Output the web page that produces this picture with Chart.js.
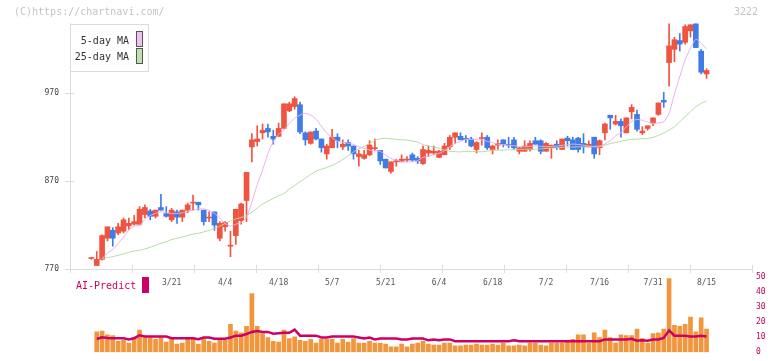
<!DOCTYPE html>
<html><head><meta charset="utf-8">
<script src="https://cdn.jsdelivr.net/npm/chart.js@4.4.1/dist/chart.umd.min.js"></script>
<style>
html,body{margin:0;padding:0;background:#fff;}
#wrap{position:relative;width:772px;height:361px;overflow:hidden;font-family:"DejaVu Sans Mono",monospace;}
canvas{position:absolute;left:0;top:0;}
.ov{position:absolute;font-size:10px;line-height:12px;white-space:nowrap;z-index:5;}
.wm{color:#c4c4c4;}
#lg{position:absolute;left:70px;top:24px;width:79px;height:48px;box-sizing:border-box;border:1px solid #dcdcdc;background:#fff;z-index:4;}
.sw{position:absolute;box-sizing:border-box;border:1px solid #555;width:7px;height:16px;z-index:5;}
</style></head>
<body>
<div id="wrap">
<canvas id="c1" width="772" height="361"></canvas>
<canvas id="c2" width="772" height="361"></canvas>
<div class="ov wm" style="left:14px;top:6px;">(C)https://chartnavi.com/</div>
<div class="ov wm" style="left:734px;top:6px;">3222</div>
<div id="lg"></div>
<div class="ov" style="left:0;top:35px;width:129px;text-align:right;color:#333;">5-day MA</div>
<div class="sw" style="left:136px;top:31px;background:#f0c0f0;"></div>
<div class="ov" style="left:0;top:51px;width:129px;text-align:right;color:#333;">25-day MA</div>
<div class="sw" style="left:136px;top:48px;background:#c0e0b0;"></div>
<div class="ov" style="left:76px;top:280px;color:#cc0066;">AI-Predict</div>
<div class="sw" style="left:142px;top:277px;background:#cc0066;border-color:#cc0066;"></div>
</div>
<script>
// ---- data (one entry per trading day) ----
const xTickLabels = ['3/21','4/4','4/18','5/7','5/21','6/4','6/18','7/2','7/16','7/31','8/15'];
const tickCandles = [15,25,35,45,55,65,75,85,95,105,115];
const priceTicks = [770, 870, 970];
const volumeTicks = [0, 10, 20, 30, 40, 50];

const opens = [
 782,774,781,805,814,811,813,819,821,821,
 832,836,830,840,833,826,835,829,837,845,
 846,837,828,835,805,818,796,808,825,848,
 909,915,925,930,921,921,930,950,955,957,
 925,913,927,918,901,908,920,909,914,910,
 898,896,900,907,905,895,881,892,892,894,
 900,896,890,902,902,897,900,909,920,921,
 918,918,906,918.5,920,906,911,917,911,917,
 904,904,906,916,916,904,908,912,906,919,
 917,919,913,909,920,908,925,945,935,938,
 925,949,946,925,930,936,946,962,1005,1020,
 1030,1028,1041,1049,1018,992];
const highs = [
 783,790,809,818,817,822,828,828,831,841,
 843,838,837,855,841,839,837,837,845,854,
 846,837,835,835,824,824,813,838,845,880,
 924,933,935,935,928,936,958,960,966,960,
 926,926,930,918,912,929,924,917,917,910,
 905,905,916,918,905,895,892,895,900,898,
 902,898,910,910,910,905,913,922,925,925,
 922,920,915,925,922,911,917,917,920,920,
 908,916,916,920,917,914,911,916,918,921,
 920,920,924,916,920,917,936,945,945,941,
 942,957,951,932,933,942,959,971,1049,1034,
 1038,1048,1048,1049,1020,998];
const lows = [
 781,774,780,802,796,809,811,815,820,820,
 828,826,828,837,829,824,822,824,834,837,
 837,820,824,814,802,813,784,798,821,824,
 892,910,918,920,912,921,930,949,952,924,
 911,912,917,903,895,908,908,906,905,895,
 887,895,899,905,889,885,879,887,892,892,
 893,890,889,898,900,897,900,906,913,917,
 914,909,902,911,906,901,906,909,908,906,
 901,904,904,912,901,904,896,906,906,910,
 906,903,902,909,896,900,917,929,934,920,
 925,941,927,923,928,933,945,954,978,1006,
 1018,1026,1034,1022,992,987];
const closes = [
 782.5,781,808,818,805,818,826,822,824,838,
 840,830,837,837,830,837,829,837,843,846,
 843,824,829,820,822,823,797,838,844,880,
 917,918,928,926,918,930,958,958,964,926,
 917,926,918,908,910,920,916,912,910,901,
 901,900,911,908,893,885,892,893,895,894.5,
 894,893,906,905,904,904,910,920,925,917,
 917.5,910,914,919,908,910,913,912,910.5,908,
 908,910,913,912,904,913,911,908,918,916,
 906,906,909,912,901,916,935,942,938,933,
 942,954,929,927,933,942,959,960,1024,1031,
 1026,1046,1048,1022,994,996];
const ma5 = [
 null,null,781.8,788.3,792.1,798.9,806.5,814.1,818.7,819.8,
 826.3,830.9,833.2,835,834.3,833.2,833.2,833.9,835.4,836.9,
 838.1,838.4,836.9,833.2,828.2,821.7,818.7,821,823,829,
 846,866,882.5,901.5,914.8,923.2,928.2,935.8,941.5,945.3,
 947.2,945.3,940.4,932.7,924.4,919.4,915.6,914.1,913.3,911.8,
 909.1,907.3,905.3,904.6,903.9,899.6,895.9,894,892.4,892,
 892,893.6,897,898.3,900.2,901.6,904.6,909.1,913,915.3,
 917.5,917.5,917.5,916.8,915.3,913.7,912.2,911.4,910.7,910.3,
 909.6,909.1,909.6,909.9,909.6,909.1,909.6,909.9,910.7,911.4,
 912.2,911.8,911,909.9,909.1,909.1,912.2,916,921.5,925.1,
 931.9,937.6,940.4,939.2,937.3,935.8,936.1,937.6,947.2,969.2,
 988.9,1008,1021.3,1031.6,1027,1020.5];
const ma25 = [
 null,null,782.1,783,784.1,785.6,787.1,789,790.5,791.3,
 792.8,794.7,797,799.3,801.2,803.5,805,806.5,808.1,809.6,
 810.7,812.2,814.1,816.1,818.7,821.7,824.7,827,828.6,830.9,
 834.5,839.5,844.1,847.2,850.3,853.3,856,860.9,865.1,869.2,
 873.4,877.6,881.4,883.7,885.6,887.9,890.9,894.7,898.8,903.1,
 906.8,909.6,913,916.4,918.2,918.7,918.2,917.5,917.1,916.8,
 915.6,914.5,911.5,910,908.7,907.5,905.5,904,903.5,903.3,
 903.9,903.9,903.5,903.5,904.2,905,905.3,905.3,905.7,905.7,
 906.1,906.1,906.5,906.5,906.8,907.2,907.6,908,908.4,908.8,
 908.8,909.1,909.1,909.1,909.6,909.9,911,912.7,914,915.3,
 916.8,917.5,917.9,918.2,918.7,919.8,922.1,924.7,928.2,931.9,
 937.6,943.3,949,954.7,958.6,961.2];
const volumes = [
 null,13.5,14.1,11.6,11.0,7.3,7.9,6.0,9.8,14.7,
 9.8,9.8,8.5,9.8,6.7,9.8,5.4,6.0,8.5,9.8,
 5.4,8.5,7.3,6.0,8.5,7.9,18.5,14.1,12.9,17.2,
 39.0,17.2,12.3,9.8,7.3,6.7,14.7,9.1,10.2,7.9,
 7.3,8.5,6.0,8.5,8.5,8.5,6.0,8.5,6.7,9.1,
 6.0,6.0,7.3,6.0,6.0,5.4,3.5,3.5,5.4,3.5,
 5.4,6.0,7.3,5.4,4.8,4.8,6.0,6.0,4.2,4.2,
 4.8,4.8,5.4,4.8,4.8,5.4,4.8,6.0,4.2,4.2,
 4.8,4.2,6.0,6.0,4.8,4.2,6.0,6.0,6.0,7.3,
 8.5,11.6,11.6,6.0,12.9,9.8,14.7,9.8,6.0,11.6,
 11.0,11.0,15.4,9.1,6.0,12.3,12.9,15.4,48.9,17.8,
 17.2,18.5,23.4,13.5,22.8,15.4];
const aiPredict = [
 null,8.8,9.9,9.5,9.3,9.3,9.3,8.5,9.3,11.2,
 10.4,10.4,10.4,10.4,10.4,9.3,9.3,9.3,9.3,9.3,
 8.7,9.8,9.8,9.0,9.0,9.0,9.8,11.0,11.0,12.1,
 13.5,14.1,13.5,13.5,12.3,12.6,12.9,12.9,15.0,11.0,
 11.0,11.0,11.0,9.8,9.8,10.4,10.4,10.4,10.4,10.4,
 9.8,9.1,9.8,8.5,9.1,9.1,9.1,9.1,8.5,8.5,
 9.1,9.1,9.1,7.9,8.5,7.9,8.5,8.5,7.3,7.3,
 7.3,7.3,7.3,7.3,7.3,7.3,7.3,7.3,7.3,7.9,
 7.3,7.3,7.3,7.3,7.3,7.3,7.3,7.3,7.3,7.3,
 7.3,7.3,7.3,7.3,7.3,7.3,8.5,8.5,8.5,8.5,
 8.5,8.9,7.6,7.9,7.6,8.5,8.5,9.5,14.5,11.0,
 11.0,11.0,10.4,10.4,11.0,10.4];

// ---- chart setup ----
const FONT = 'DejaVu Sans Mono';
Chart.defaults.font.family = FONT;
const RED = '#f05440', BLUE = '#407ce8';
const xMin = -4, xMax = 123.5;
const candleColors = closes.map((c, i) => c >= opens[i] ? RED : BLUE);
const pts = arr => arr.map((v, i) => ({x: i, y: v}));

const tickMarks = {
  id: 'tickMarks',
  afterDraw(chart) {
    const {ctx, chartArea: a, scales: {x, y}} = chart;
    ctx.save();
    ctx.strokeStyle = '#dcdcdc';
    ctx.lineWidth = 1;
    ctx.beginPath();
    const n = 11;
    for (let k = 0; k <= n; k++) {
      const px = Math.round(x.getPixelForValue(x.min + k * (x.max - x.min) / n)) + 0.5;
      ctx.moveTo(px, a.bottom - 4); ctx.lineTo(px, a.bottom + 4);
    }
    y.ticks.forEach(t => {
      const py = Math.round(y.getPixelForValue(t.value)) + 0.5;
      ctx.moveTo(a.left - 5, py); ctx.lineTo(a.left + 4, py);
    });
    ctx.stroke();
    ctx.restore();
  }
};

new Chart(document.getElementById('c1'), {
  type: 'bar',
  data: {
    datasets: [
      {type: 'line', label: '5-day MA', data: pts(ma5), borderColor: '#e6b0ea', borderWidth: 1, pointRadius: 0, tension: 0.2, order: 0},
      {type: 'line', label: '25-day MA', data: pts(ma25), borderColor: '#b2da9e', borderWidth: 1, pointRadius: 0, tension: 0.2, order: 0},
      {label: 'body', data: opens.map((o, i) => ({x: i, y: [o, closes[i]]})), backgroundColor: candleColors,
       barThickness: 5, minBarLength: 1, grouped: false, order: 1},
      {label: 'wick', data: lows.map((l, i) => ({x: i, y: [l, highs[i]]})), backgroundColor: candleColors,
       barThickness: 1, grouped: false, order: 2}
    ]
  },
  options: {
    responsive: false, animation: false, devicePixelRatio: 1,
    layout: {padding: {left: 0, top: 23, right: 20, bottom: 72}, autoPadding: false},
    plugins: {legend: {display: false}, tooltip: {enabled: false}},
    scales: {
      x: {
        type: 'linear', min: xMin, max: xMax, offset: false,
        grid: {display: false, drawTicks: false},
        border: {display: true, color: '#dcdcdc'},
        afterBuildTicks: s => { s.ticks = tickCandles.map(v => ({value: v})); },
        ticks: {autoSkip: false, maxRotation: 0, padding: 9, color: '#555', font: {size: 8, family: FONT},
                callback: (v, i) => xTickLabels[i]},
        afterFit: s => { s.height = 20; }
      },
      y: {
        position: 'left', min: 770, max: 1050,
        grid: {display: false, drawTicks: false},
        border: {display: true, color: '#dcdcdc'},
        afterBuildTicks: s => { s.ticks = priceTicks.map(v => ({value: v})); },
        ticks: {padding: 11, color: '#444', font: {size: 8, family: FONT}},
        afterFit: s => { s.width = 70; }
      }
    }
  },
  plugins: [tickMarks]
});

new Chart(document.getElementById('c2'), {
  type: 'bar',
  data: {
    datasets: [
      {type: 'line', label: 'AI-Predict', data: pts(aiPredict), borderColor: '#cc0066', borderWidth: 2.5, pointRadius: 0, order: 0},
      {label: 'Volume', data: pts(volumes), backgroundColor: '#f0963c', barThickness: 4, order: 1}
    ]
  },
  options: {
    responsive: false, animation: false, devicePixelRatio: 1,
    layout: {padding: {left: 70, top: 277, right: 0, bottom: 3}, autoPadding: false},
    plugins: {legend: {display: false}, tooltip: {enabled: false}},
    scales: {
      x: {type: 'linear', min: xMin, max: xMax, offset: false, display: false},
      y: {
        position: 'right', min: 0, max: 50,
        grid: {display: false, drawTicks: false},
        border: {display: false},
        afterBuildTicks: s => { s.ticks = volumeTicks.map(v => ({value: v})); },
        ticks: {padding: 4, color: '#c0005a', font: {size: 8, family: FONT}},
        afterFit: s => { s.width = 20; }
      }
    }
  }
});
</script>
</body></html>
